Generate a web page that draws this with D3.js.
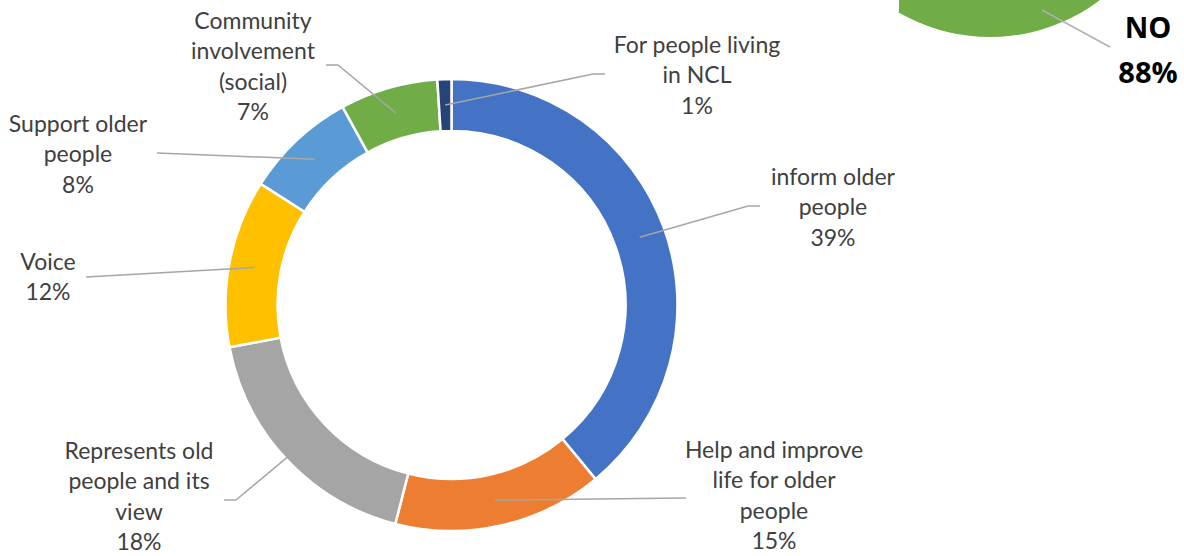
<!DOCTYPE html>
<html>
<head>
<meta charset="utf-8">
<script src="https://cdn.jsdelivr.net/npm/d3@7"></script>
<style>
  html, body { margin: 0; padding: 0; background: #ffffff; }
  svg { display: block; }
</style>
</head>
<body>
<svg id="chart" width="1184" height="556"></svg>
<script>
// Purposes named by respondents (share of answers, %)
const categories = [
  "inform older people",
  "Help and improve life for older people",
  "Represents old people and its view",
  "Voice",
  "Support older people",
  "Community involvement (social)",
  "For people living in NCL"
];
const values = [39, 15, 18, 12, 8, 7, 1];
const percentLabels = ["39%", "15%", "18%", "12%", "8%", "7%", "1%"];
const colors = ["#4472C4", "#ED7D31", "#A5A5A5", "#FFC000", "#5B9BD5", "#70AD47", "#264478"];

// Wrapped label lines for each slice
const labelLines = [
  ["inform older", "people"],
  ["Help and improve", "life for older", "people"],
  ["Represents old", "people and its", "view"],
  ["Voice"],
  ["Support older", "people"],
  ["Community", "involvement", "(social)"],
  ["For people living", "in NCL"]
];

// Neighbouring chart: answer "NO"
const noShare = [88];
const noLabel = ["NO", "88%"];

// Label layout: text centre x, first baseline y, leader-line start points
const labelLayout = [
  { x: 833, y: 185, leader: [[760, 206], [748, 206]] },
  { x: 774, y: 458, leader: [[686, 498]] },
  { x: 139, y: 459, leader: [[224, 500], [236, 500]] },
  { x: 48,  y: 270, leader: [[86, 277]] },
  { x: 78,  y: 132, leader: [[157, 153]] },
  { x: 253, y: 29,  leader: [[326, 65], [338, 65]] },
  { x: 697, y: 53,  leader: [[605, 74], [593, 74]] }
];

const svg = d3.select("#chart");
const cx = 451.5, cy = 305;
const outerR = 226, innerR = 174;
const lineStep = 30.3;

// "NO" slice of the neighbouring pie, top-right corner (its gap sits above the view)
const noG = svg.append("g").attr("transform", "translate(990,-145)");
const gapHalf = Math.PI * (1 - noShare[0] / 100);
const noPie = d3.pie().sort(null).startAngle(gapHalf).endAngle(2 * Math.PI - gapHalf);
noG.selectAll("path")
  .data(noPie(noShare))
  .join("path")
  .attr("d", d3.arc().innerRadius(0).outerRadius(182))
  .attr("fill", "#70AD47");
svg.append("rect").attr("x", 872).attr("y", 0).attr("width", 27).attr("height", 12).attr("fill", "#fff");
svg.append("line")
  .attr("x1", 1042).attr("y1", 10).attr("x2", 1110).attr("y2", 47)
  .attr("stroke", "#B0B0B0").attr("stroke-width", 1.5);
svg.append("text")
  .attr("text-anchor", "middle")
  .attr("font-family", "'Open Sans', sans-serif")
  .attr("font-weight", 700)
  .attr("font-size", 29)
  .attr("fill", "#000")
  .selectAll("tspan")
  .data(noLabel)
  .join("tspan")
  .attr("x", 1148)
  .attr("y", (d, i) => i === 0 ? 38 : 83)
  .text(d => d);

// Donut
const pie = d3.pie().sort(null).value(d => d);
const arcs = pie(values);
const arc = d3.arc().innerRadius(innerR).outerRadius(outerR);

const g = svg.append("g").attr("transform", `translate(${cx},${cy})`);
g.selectAll("path.slice")
  .data(arcs)
  .join("path")
  .attr("class", "slice")
  .attr("d", arc)
  .attr("fill", (d, i) => colors[i])
  .attr("stroke", "#ffffff")
  .attr("stroke-width", 2.5);

// Leader lines from label to slice centroid
const line = d3.line();
svg.selectAll("path.leader")
  .data(arcs)
  .join("path")
  .attr("class", "leader")
  .attr("d", (d, i) => {
    const c = arc.centroid(d);
    return line(labelLayout[i].leader.concat([[cx + c[0], cy + c[1]]]));
  })
  .attr("fill", "none")
  .attr("stroke", "#A6A6A6")
  .attr("stroke-width", 1.5);

// Data labels
const labels = svg.selectAll("text.lbl")
  .data(arcs)
  .join("text")
  .attr("class", "lbl")
  .attr("text-anchor", "middle")
  .attr("font-family", "Lato, 'Open Sans', sans-serif")
  .attr("font-size", 23)
  .attr("fill", "#404040");

labels.each(function (d, i) {
  const t = d3.select(this);
  const lines = labelLines[i].concat([percentLabels[i]]);
  lines.forEach((s, k) => {
    t.append("tspan")
      .attr("x", labelLayout[i].x)
      .attr("y", labelLayout[i].y + k * lineStep)
      .text(s);
  });
});
</script>
</body>
</html>
